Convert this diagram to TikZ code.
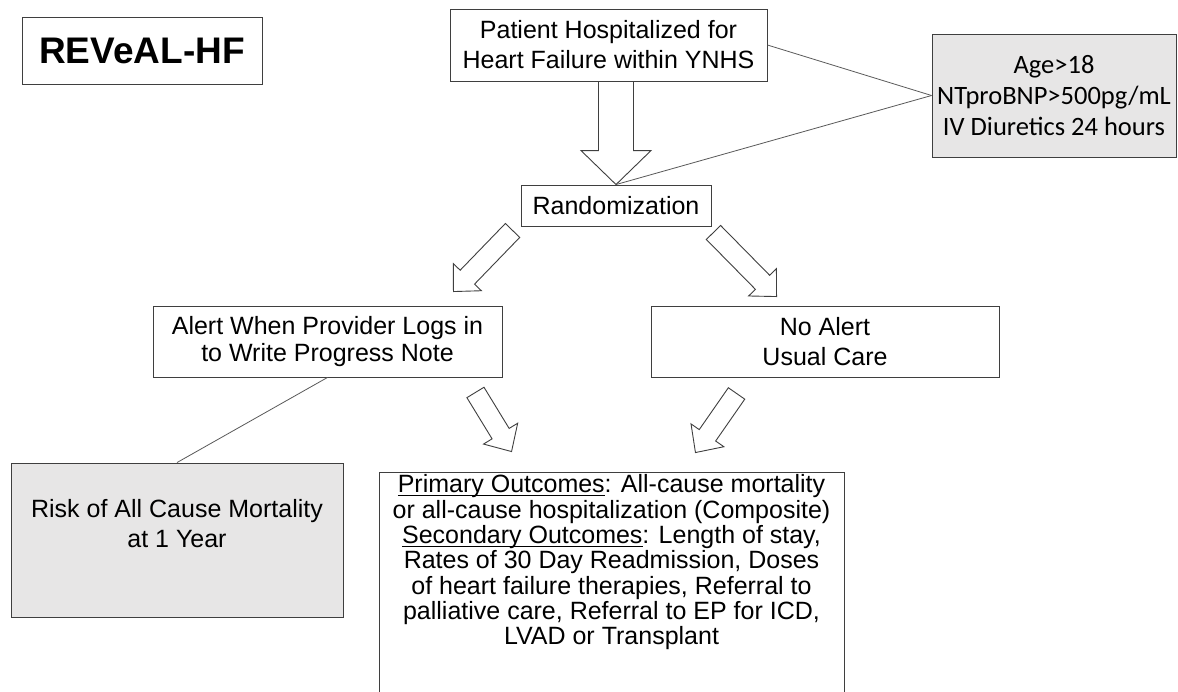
\documentclass[tikz,border=0pt]{standalone}
\usepackage{fontspec}
\setmainfont{Liberation Sans}
\newfontfamily\critfont{Carlito}
\usetikzlibrary{calc,positioning}
\definecolor{boxline}{HTML}{3F3F3F}
\definecolor{boxgrey}{HTML}{E7E6E6}
\definecolor{joinline}{HTML}{595959}

% tail, tip, half shaft, half head, head length
\newcommand{\blockarrow}[5]{%
  \coordinate (ba-base) at ($(#2)!#5!(#1)$);
  \draw[blockarr] ($(#1)!#3!90:(#2)$) -- ($(ba-base)!#3!90:(#2)$)
    -- ($(ba-base)!#4!90:(#2)$) -- (#2)
    -- ($(ba-base)!#4!-90:(#2)$) -- ($(ba-base)!#3!-90:(#2)$)
    -- ($(#1)!#3!-90:(#2)$) -- cycle;
}
% underline at a fixed depth
\newcommand{\undl}[1]{\setbox0=\hbox{#1}\rlap{\rule[-3.2pt]{\wd0}{1pt}}\box0}

\begin{document}
\begin{tikzpicture}[x=1pt,y=-1pt,
  plainbox/.style={draw=boxline,line width=0.9pt,fill=white,align=center,inner sep=0pt},
  greybox/.style={plainbox,fill=boxgrey},
  txt/.style={align=center,inner sep=0pt,font=\fontsize{25}{30}\selectfont},
  joinln/.style={draw=joinline,line width=0.8pt},
  blockarr/.style={draw=boxline,line width=0.9pt,fill=white,line join=miter}]
\useasboundingbox (0,0) rectangle (1178,691);
\clip (0,0) rectangle (1178,691);
\fill[white] (0,0) rectangle (1178,691);

\node[plainbox,minimum width=240pt,minimum height=67pt,font=\fontsize{37}{40}\selectfont\bfseries] (title) at (142,50.5) {REVeAL-HF};
\node[plainbox,txt,minimum width=317pt,minimum height=72pt] (patient) at (608.5,45) {Patient Hospitalized for\\Heart Failure within YNHS};
\node[greybox,minimum width=244pt,minimum height=123pt,font=\critfont\fontsize{26.5}{31}\selectfont] (crit) at (1054,95.5) {Age>18\\NTproBNP>500pg/mL\\IV Diuretics 24 hours};
\node[plainbox,txt,minimum width=190pt,minimum height=41pt] (rand) at (616,205.5) {Randomization};
\node[plainbox,txt,minimum width=349pt,minimum height=71pt,font=\fontsize{25}{27}\selectfont] (alert) at (327.5,341.5) {Alert When Provider Logs in\\to Write Progress Note};
\node[plainbox,txt,minimum width=348pt,minimum height=71pt] (noalert) at (825,341.5) {No Alert\\Usual Care};
\node[greybox,minimum width=332pt,minimum height=154pt] (risk) at (177,540) {};
\node[txt,below=37pt of risk.north] (riskText) {Risk of All Cause Mortality\\at 1 Year};
\node[plainbox,minimum width=465pt,minimum height=300pt] (outcomes) at (611.5,622) {};
\node[txt,font=\fontsize{25}{25.3}\selectfont,below=3pt of outcomes.north] (outcomesText)
  {\undl{Primary Outcomes}: All-cause mortality\\
   or all-cause hospitalization (Composite)\\
   \undl{Secondary Outcomes}: Length of stay,\\
   Rates of 30 Day Readmission, Doses\\
   of heart failure therapies, Referral to\\
   palliative care, Referral to EP for ICD,\\
   LVAD or Transplant};

\draw[joinln] (patient.east) -- (crit.west);
\draw[joinln] (rand.north) -- (crit.west);
\draw[joinln] (alert.south) -- (risk.north);

\coordinate (topTail) at (patient.south -| rand.north);
\coordinate (leftTail) at ([shift={(-8,4)}]rand.south west);
\coordinate (leftTip) at ([shift={(-49,-14)}]alert.north east);
\coordinate (rightTail) at ([shift={(2,6)}]rand.south east);
\coordinate (rightTip) at ([shift={(126,-9)}]noalert.north west);
\coordinate (lowLeftTail) at ([shift={(-27,15)}]alert.south east);
\coordinate (lowLeftTip) at ([shift={(133,-20)}]outcomes.north west);
\coordinate (lowRightTail) at ([shift={(86,16)}]noalert.south west);
\coordinate (lowRightTip) at ([shift={(-149,-19)}]outcomes.north east);

\blockarrow{topTail}{rand.north}{17.5pt}{35pt}{34pt}
\blockarrow{leftTail}{leftTip}{10pt}{19.5pt}{20pt}
\blockarrow{rightTail}{rightTip}{10pt}{19.5pt}{20pt}
\blockarrow{lowLeftTail}{lowLeftTip}{10pt}{20pt}{21pt}
\blockarrow{lowRightTail}{lowRightTip}{10pt}{20pt}{21pt}
\end{tikzpicture}
\end{document}
